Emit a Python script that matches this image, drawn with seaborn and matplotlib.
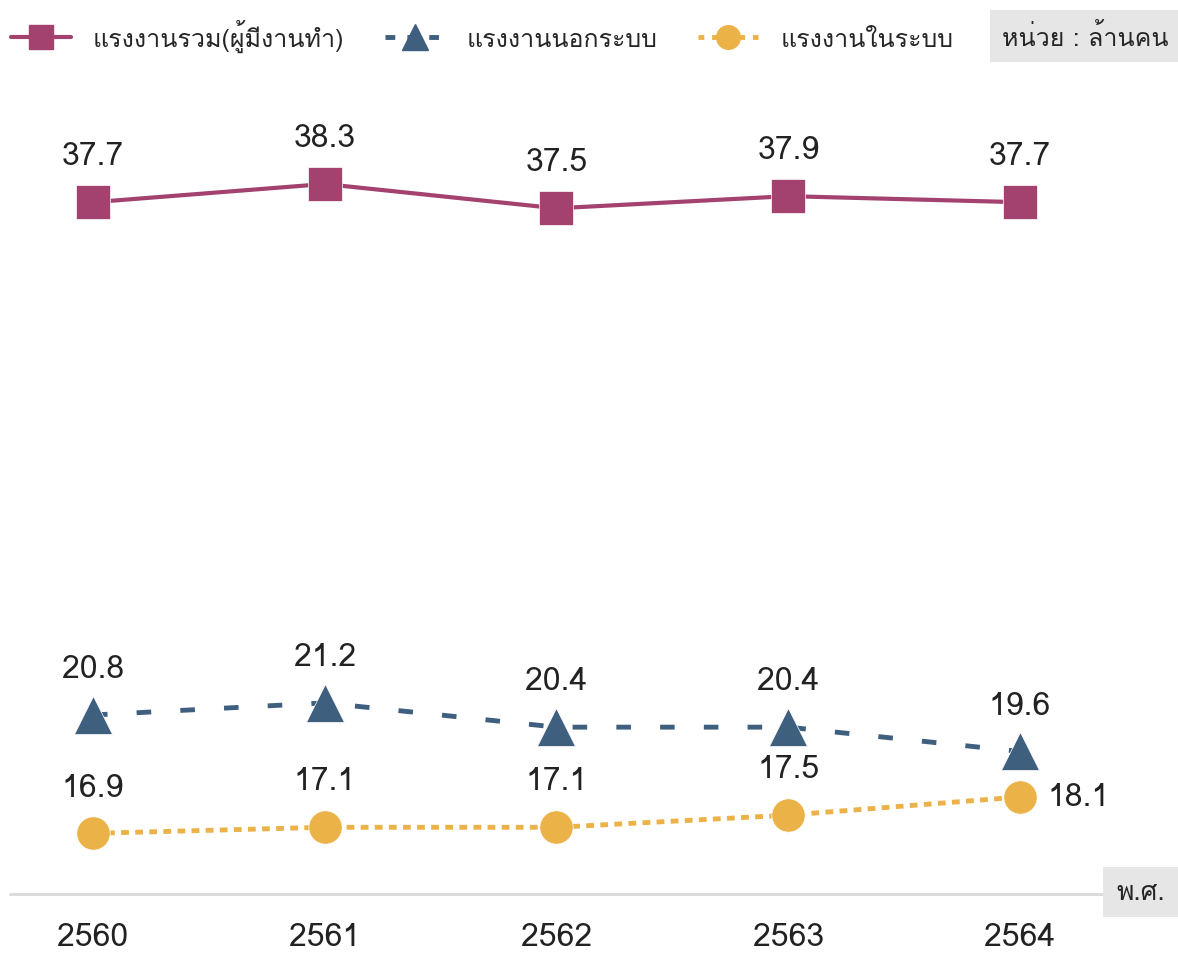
import matplotlib
matplotlib.use("Agg")
import matplotlib.pyplot as plt
import seaborn as sns
from matplotlib import font_manager as fm
from matplotlib.ft2font import FT2Font
from matplotlib.lines import Line2D

years = [2560, 2561, 2562, 2563, 2564]
total = [37.7, 38.3, 37.5, 37.9, 37.7]
informal = [20.8, 21.2, 20.4, 20.4, 19.6]
formal = [16.9, 17.1, 17.1, 17.5, 18.1]
labels = ["แรงงานรวม(ผู้มีงานทำ)", "แรงงานนอกระบบ", "แรงงานในระบบ"]
unit_text = "หน่วย : ล้านคน"
axis_text = "พ.ศ."

# หาฟอนต์ที่มีอักษรไทย
thai_font = None
for f in fm.fontManager.ttflist:
    try:
        if 0x0E23 in FT2Font(f.fname).get_charmap():
            thai_font = f.name
            break
    except Exception:
        pass

sns.set_theme(style="white")
plt.rcParams["font.family"] = ([thai_font] if thai_font else []) + ["DejaVu Sans"]

c_total = "#a3426f"
c_inf = "#3f5f7f"
c_for = "#ebb248"

fig = plt.figure(figsize=(11.78, 9.54), dpi=100)
ax = fig.add_axes([0.0, 0.0618, 1.0, 0.854])

sns.lineplot(x=years, y=total, ax=ax, color=c_total, marker="s", markersize=24,
             linewidth=3, markeredgecolor="white", markeredgewidth=0.5)
sns.lineplot(x=years, y=informal, ax=ax, color=c_inf, marker="^", markersize=27,
             linewidth=3.5, markeredgecolor="white", markeredgewidth=0.5)
sns.lineplot(x=years, y=formal, ax=ax, color=c_for, marker="o", markersize=24,
             linewidth=3.5, markeredgecolor="white", markeredgewidth=0.5)
ax.lines[1].set_dashes((3, 6))
ax.lines[2].set_dashes((1.6, 1.3))

ax.set_xlim(2559.599, 2564.682)
ax.set_ylim(14.9, 41.75)
for s in ax.spines.values():
    s.set_visible(False)
ax.set_yticks([])
ax.set_xticks(years)
ax.set_xticklabels([str(y) for y in years], fontsize=23, color="#222222")
ax.tick_params(axis="x", length=0, pad=20)
ax.axhline(14.9, xmin=0.0085, xmax=0.938, color="#d9d9d9", lw=2, clip_on=False)

num_kw = dict(textcoords="offset points", fontsize=23, color="#222222")
for x, v in zip(years, total):
    ax.annotate(f"{v}", (x, v), xytext=(0, 33), ha="center", va="center", **num_kw)
for x, v in zip(years, informal):
    ax.annotate(f"{v}", (x, v), xytext=(0, 33), ha="center", va="center", **num_kw)
for x, v in zip(years[:-1], formal[:-1]):
    ax.annotate(f"{v}", (x, v), xytext=(0, 33), ha="center", va="center", **num_kw)
ax.annotate(f"{formal[-1]}", (years[-1], formal[-1]), xytext=(20, 0),
            ha="left", va="center", **num_kw)

handles = [
    Line2D([], [], color=c_total, marker="s", markersize=17, lw=3),
    Line2D([], [], color=c_inf, marker="^", markersize=19, lw=3.5, dashes=(2, 2.5)),
    Line2D([], [], color=c_for, marker="o", markersize=17, lw=3.5, dashes=(1.2, 1.6)),
]
fig.legend(handles, labels, ncol=3, loc="center left", bbox_to_anchor=(0.009, 0.962),
           frameon=False, fontsize=18, handlelength=2.4, handletextpad=0.9,
           columnspacing=1.6, borderpad=0, borderaxespad=0)

fig.text(0.992, 0.961, unit_text, ha="right", va="center", fontsize=18,
         bbox=dict(boxstyle="square,pad=0.5", fc="#e6e6e6", ec="none"))
fig.text(0.968, 0.064, axis_text, ha="center", va="center", fontsize=19,
         bbox=dict(boxstyle="square,pad=0.5", fc="#e6e6e6", ec="none"))

fig.savefig("out.png", dpi=100, facecolor="white")
